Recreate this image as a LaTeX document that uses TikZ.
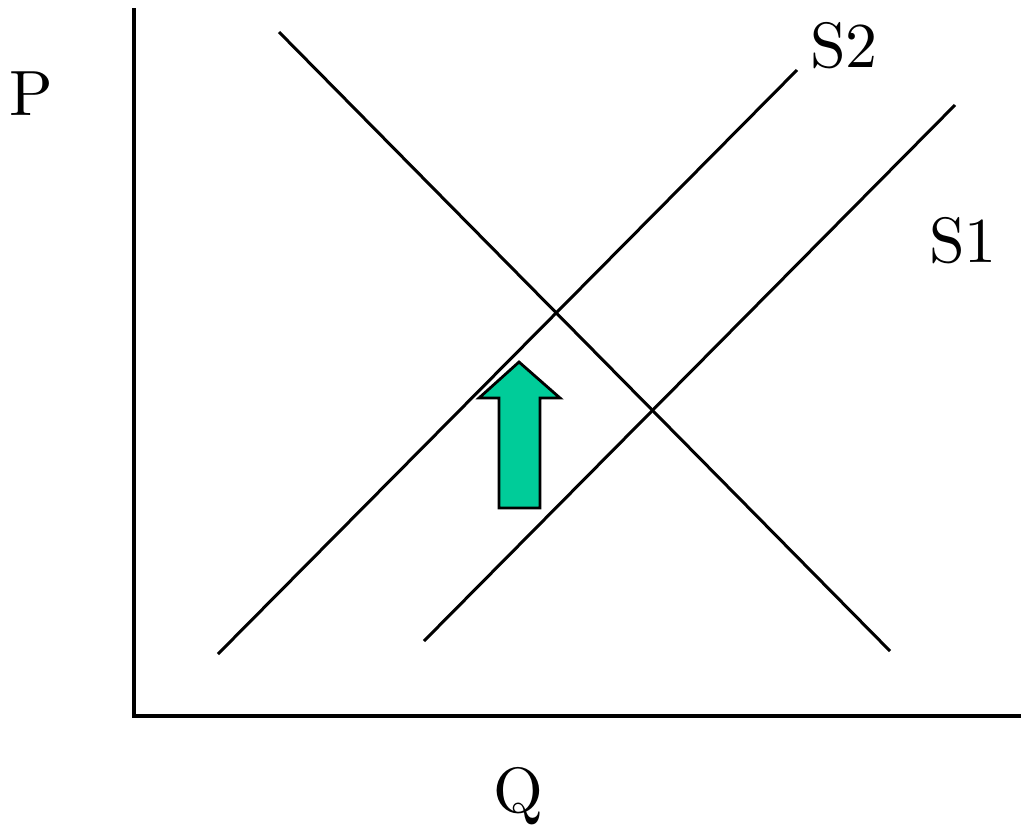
\documentclass[tikz,border=0pt]{standalone}
\usepackage{fontspec}
\newfontfamily\lmten{lmroman10-regular.otf}
\usetikzlibrary{shapes.arrows}
\definecolor{arrowgreen}{RGB}{0,204,153}
\begin{document}
\begin{tikzpicture}[x=1pt,y=-1pt,
  curve/.style={line width=3pt,black},
  axis/.style={line width=3.4pt,black},
  lbl/.style={inner sep=0pt,anchor=base,font=\lmten\fontsize{64}{64}\selectfont}]
\useasboundingbox (0,0) rectangle (1021,831);
% axes
\coordinate (top) at (134,8);
\coordinate (origin) at (134,716);
\coordinate (right) at (1021,716);
\draw[axis] (top) -- (origin) -- (right);
% demand
\coordinate (d1) at (279,32);
\coordinate (d2) at (890,651);
\draw[curve] (d1) -- (d2);
% S2
\coordinate (s2a) at (218,654);
\coordinate (s2b) at (797,70);
\draw[curve] (s2a) -- (s2b);
% S1
\coordinate (s1a) at (424,641);
\coordinate (s1b) at (955,105);
\draw[curve] (s1a) -- (s1b);
% arrow
\draw[line width=2.8pt,fill=arrowgreen,line join=miter]
  (499,508) -- (540,508) -- (540,398) -- (560,398) -- (519,362) -- (479,398) -- (499,398) -- cycle;
% labels
\node[lbl] (P) at (31,115) {P};
\node[lbl] (Q) at (518,812) {Q};
\node[lbl] (S2) at (844,67) {S2};
\node[lbl] (S1) at (963,262) {S1};
\end{tikzpicture}
\end{document}
